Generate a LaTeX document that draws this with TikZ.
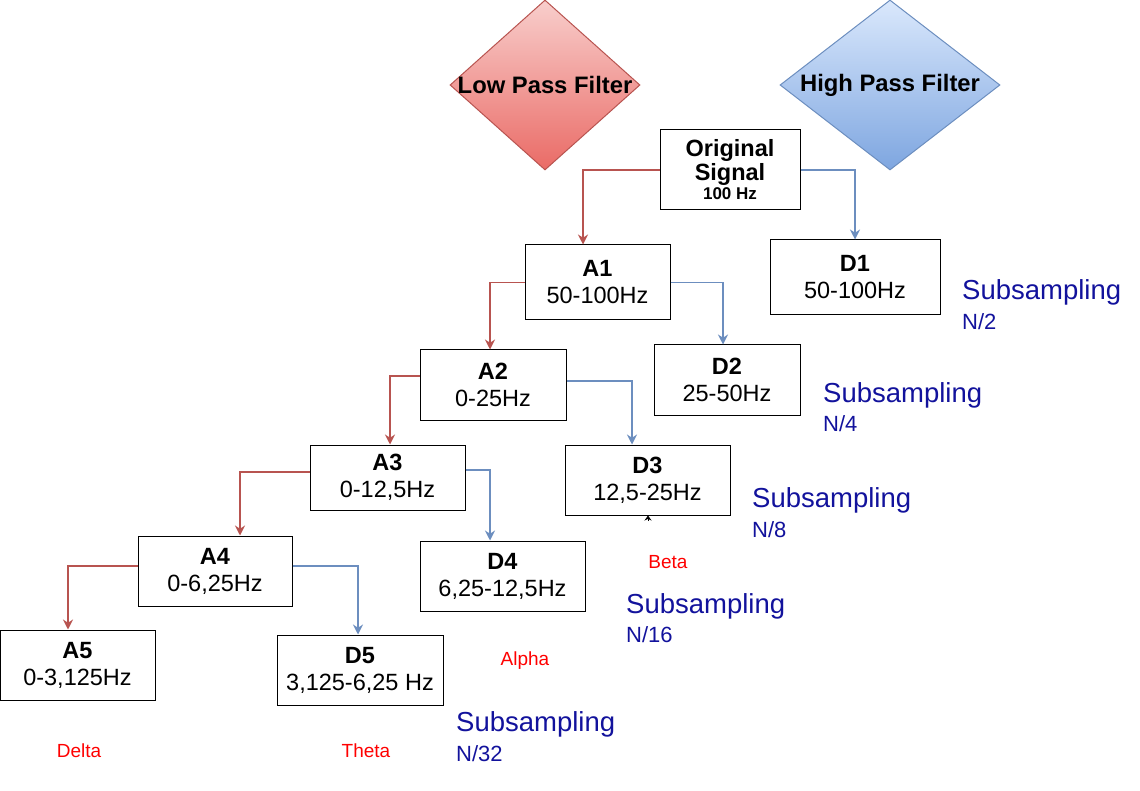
\documentclass[tikz,border=0pt]{standalone}
\usepackage{fontspec}
\setmainfont{Liberation Sans}
\usetikzlibrary{arrows.meta,shapes.geometric}
\definecolor{lpfTop}{HTML}{F8CECC}
\definecolor{lpfBot}{HTML}{EA6B66}
\definecolor{lpfLine}{HTML}{B85450}
\definecolor{hpfTop}{HTML}{DAE8FC}
\definecolor{hpfBot}{HTML}{7EA6E0}
\definecolor{hpfLine}{HTML}{6C8EBF}
\definecolor{subBlue}{HTML}{12129C}
\definecolor{bandRed}{HTML}{FF0000}
\tikzset{
  box/.style={draw=black, line width=1pt, fill=white, align=center, inner sep=0pt,
    font=\fontsize{23.5}{27}\selectfont},
  lowline/.style={draw=lpfLine, line width=1.8pt, -{Stealth[length=10pt,width=10pt]}},
  highline/.style={draw=hpfLine, line width=1.8pt, -{Stealth[length=10pt,width=10pt]}},
  subtext/.style={anchor=west, inner sep=0pt, text=subBlue, font=\fontsize{27.5}{30}\selectfont},
  ntext/.style={anchor=west, inner sep=0pt, text=subBlue, font=\fontsize{22}{26}\selectfont},
  band/.style={inner sep=0pt, text=bandRed, font=\fontsize{19}{22}\selectfont},
  filt/.style={diamond, minimum height=170pt, inner sep=0pt, line width=1pt}
}
\begin{document}
\begin{tikzpicture}[x=1pt,y=-1pt]
\useasboundingbox (0,0) rectangle (1140,791);
% filters
\node[filt, minimum width=190pt, draw=lpfLine, top color=lpfTop, bottom color=lpfBot,
  label={[font=\bfseries\fontsize{23.8}{27}\selectfont]center:Low Pass Filter}] (lpf) at (545,85) {};
\node[filt, minimum width=220pt, draw=hpfLine, top color=hpfTop, bottom color=hpfBot,
  label={[font=\bfseries\fontsize{23.8}{27}\selectfont]center:High Pass Filter}] (hpf) at (890,85) {};
% boxes
\node[box, minimum width=140pt, minimum height=80pt] (orig) at (730,170)
  {\textbf{Original}\\[-3pt]\textbf{Signal}\\[-8pt]{\bfseries\fontsize{17}{20}\selectfont 100 Hz}};
\node[box, minimum width=170pt, minimum height=75pt] (d1) at (855,277.5) {\textbf{D1}\\50-100Hz};
\node[box, minimum width=145pt, minimum height=75pt] (a1) at (597.5,282.5) {\textbf{A1}\\50-100Hz};
\node[box, minimum width=146pt, minimum height=70pt] (d2) at (727,380) {\textbf{D2}\\25-50Hz};
\node[box, minimum width=146pt, minimum height=70pt] (a2) at (493,385) {\textbf{A2}\\0-25Hz};
\node[box, minimum width=165pt, minimum height=70pt] (d3) at (647.5,480) {\textbf{D3}\\12,5-25Hz};
\node[box, minimum width=155pt, minimum height=65pt] (a3) at (387.5,477.5) {\textbf{A3}\\0-12,5Hz};
\node[box, minimum width=165pt, minimum height=70pt] (d4) at (502.5,576) {\textbf{D4}\\6,25-12,5Hz};
\node[box, minimum width=154pt, minimum height=70pt] (a4) at (215,571) {\textbf{A4}\\0-6,25Hz};
\node[box, minimum width=155pt, minimum height=70pt] (a5) at (77.5,665) {\textbf{A5}\\0-3,125Hz};
\node[box, minimum width=166pt, minimum height=70pt] (d5) at (360,670) {\textbf{D5}\\3,125-6,25 Hz};
% connectors
\draw[lowline] (orig.west) -| ([xshift=-14.5pt]a1.north);
\draw[highline] (orig.east) -| (d1.north);
\draw[lowline] (a1.west) -| ([xshift=-3pt]a2.north);
\draw[highline] (a1.east) -| ([xshift=-4pt]d2.north);
\draw[lowline] ([yshift=9pt]a2.west) -| ([xshift=2.5pt]a3.north);
\draw[highline] ([yshift=4pt]a2.east) -| ([xshift=-15.5pt]d3.north);
\draw[lowline] ([yshift=5.5pt]a3.west) -| ([xshift=25pt]a4.north);
\draw[highline] ([yshift=7.5pt]a3.east) -| ([xshift=-12.5pt]d4.north);
\draw[lowline] ([yshift=5pt]a4.west) -| ([xshift=-9.5pt]a5.north);
\draw[highline] ([yshift=5pt]a4.east) -| ([xshift=-2pt]d5.north);
% small arrowhead under D3
\coordinate (bt) at (648,521);
\draw[black, line width=0.8pt, -{Stealth[length=5pt,width=7pt]}] (bt) -- (bt |- d3.south);
% subsampling labels
\node[subtext] (s1) at (962,292) {Subsampling};
\node[ntext] (n1) at (962,322) {N/2};
\node[subtext] (s2) at (823,395) {Subsampling};
\node[ntext] (n2) at (823,424) {N/4};
\node[subtext] (s3) at (752,500) {Subsampling};
\node[ntext] (n3) at (752,530) {N/8};
\node[subtext] (s4) at (626,606) {Subsampling};
\node[ntext] (n4) at (626,635) {N/16};
\node[subtext] (s5) at (456,724) {Subsampling};
\node[ntext] (n5) at (456,754) {N/32};
% band labels
\node[band] (beta) at (668,562) {Beta};
\node[band] (alpha) at (525,661) {Alpha};
\node[band] (delta) at (79,751) {Delta};
\node[band] (theta) at (366,751) {Theta};
\end{tikzpicture}
\end{document}
